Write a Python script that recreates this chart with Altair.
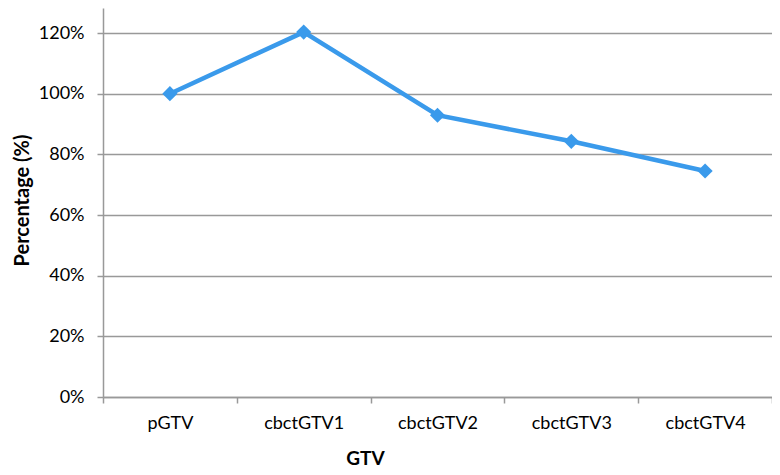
import altair as alt
import pandas as pd

categories = ["pGTV", "cbctGTV1", "cbctGTV2", "cbctGTV3", "cbctGTV4"]
percentages = [1.00, 1.203, 0.929, 0.843, 0.745]
y_ticks = [0, 0.2, 0.4, 0.6, 0.8, 1.0, 1.2]

df = pd.DataFrame({"GTV": categories, "Percentage": percentages})

FONT = "Lato"
BLUE = "#3A9AEB"
GRAY = "#999999"

x = alt.X(
    "GTV:N",
    sort=categories,
    scale=alt.Scale(paddingInner=0, paddingOuter=0),
    axis=alt.Axis(
        title="GTV",
        titleFont=FONT,
        titleFontSize=19,
        titleFontWeight="bold",
        titleColor="#000000",
        titleX=262,
        titleY=61,
        titleAlign="center",
        titleBaseline="middle",
        labelFont=FONT,
        labelFontSize=18,
        labelColor="#000000",
        labelAngle=0,
        labelPadding=11,
        domainColor=GRAY,
        domainWidth=1.5,
        tickColor=GRAY,
        tickWidth=1.5,
        tickSize=6,
        tickBand="extent",
        grid=False,
    ),
)

y = alt.Y(
    "Percentage:Q",
    scale=alt.Scale(domain=[0, 1.2825], nice=False, zero=True),
    axis=alt.Axis(
        title="Percentage (%)",
        titleFont=FONT,
        titleFontSize=20,
        titleFontWeight="bold",
        titleColor="#000000",
        titleX=-81,
        titleY=192,
        titleAngle=270,
        titleAlign="center",
        titleBaseline="middle",
        values=y_ticks,
        format=".0%",
        labelFont=FONT,
        labelFontSize=18,
        labelColor="#000000",
        labelPadding=13,
        domainColor=GRAY,
        domainWidth=1.5,
        tickColor=GRAY,
        tickWidth=1.5,
        tickSize=6,
        gridColor=GRAY,
        gridWidth=1.5,
    ),
)

line = alt.Chart(df).mark_line(
    color=BLUE,
    strokeWidth=4.5,
    point=alt.OverlayMarkDef(shape="diamond", size=230, filled=True, color=BLUE, opacity=1),
).encode(x=x, y=y)

chart = line.properties(
    width=669,
    height=389,
    autosize=alt.AutoSizeParams(type="none"),
    padding={"left": 95, "top": 0, "right": 0, "bottom": 70},
).configure_view(stroke=None)

chart.save("out.html", embed_options={"renderer": "svg", "actions": False})
